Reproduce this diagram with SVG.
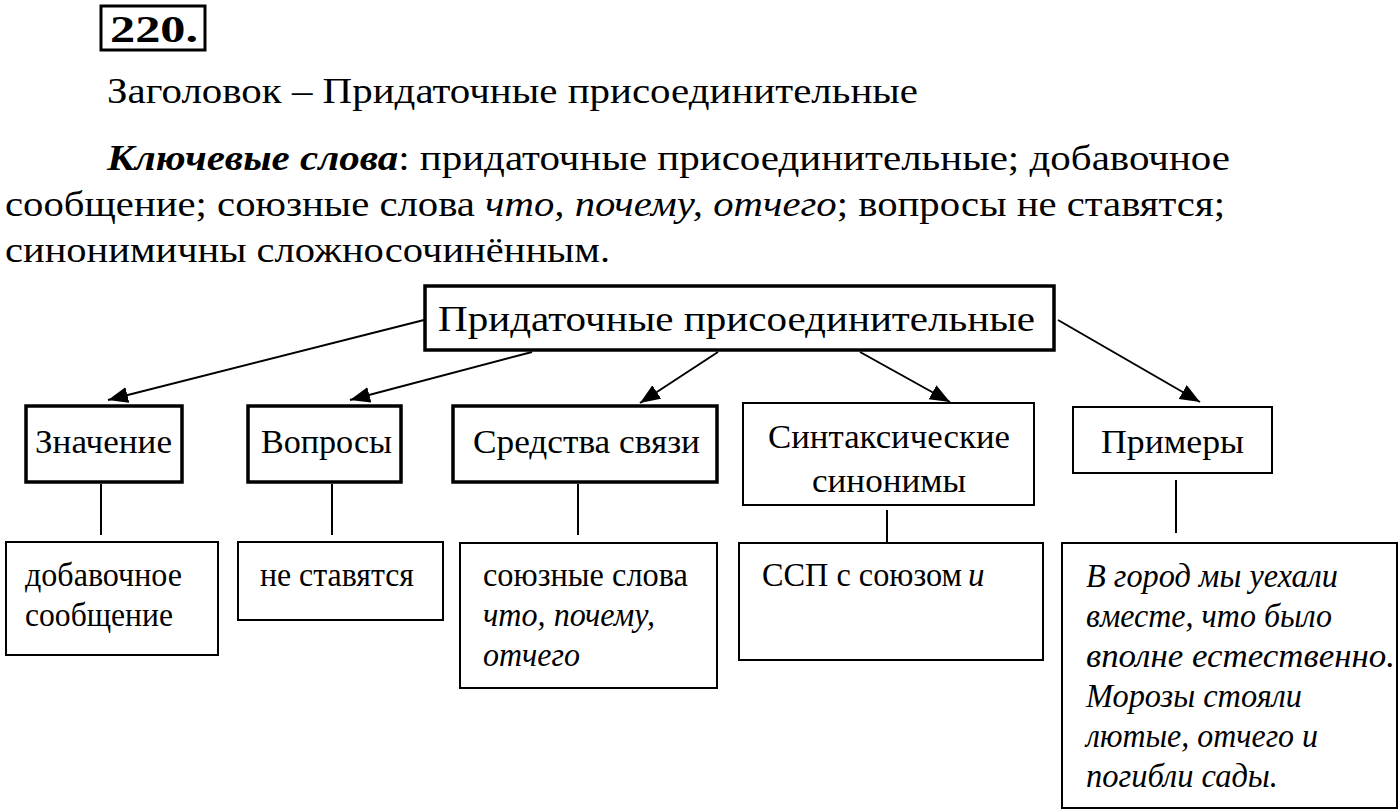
<svg xmlns="http://www.w3.org/2000/svg" width="1400" height="812" viewBox="0 0 1400 812" font-family="'Liberation Serif', 'Times New Roman', serif">
<style>
text{font-family:'Liberation Serif','Times New Roman',serif;fill:#000}
.h{font-size:36px}
.n{font-size:33px}
.i{font-style:italic}
.thick{fill:#fff;stroke:#000;stroke-width:3.5}
.thin{fill:#fff;stroke:#000;stroke-width:2}
.ln{stroke:#000;stroke-width:2;fill:none}
</style>
<defs>
<marker id="ah" markerUnits="userSpaceOnUse" markerWidth="22" markerHeight="18" refX="20" refY="8" orient="auto">
<path d="M0,0 L20,8 L0,16 Z" fill="#000"/>
</marker>
</defs>
<rect width="1400" height="812" fill="#fff"/>
<g id="header">
<rect x="101" y="6" width="104" height="44" fill="none" stroke="#000" stroke-width="3"/>
<text x="110" y="42" font-size="38" font-weight="bold" textLength="88" lengthAdjust="spacingAndGlyphs">220.</text>
<text class="h" x="107" y="103" textLength="811" lengthAdjust="spacingAndGlyphs">Заголовок – Придаточные присоединительные</text>
<text class="h" x="107" y="170" textLength="1123" lengthAdjust="spacingAndGlyphs"><tspan font-weight="bold" font-style="italic">Ключевые слова</tspan>: придаточные присоединительные; добавочное</text>
<text class="h" x="5" y="216" textLength="1220" lengthAdjust="spacingAndGlyphs">сообщение; союзные слова <tspan class="i">что, почему, отчего</tspan>; вопросы не ставятся;</text>
<text class="h" x="5" y="262" textLength="605" lengthAdjust="spacingAndGlyphs">синонимичны сложносочинённым.</text>
</g>
<g id="connectors">
<line class="ln" x1="424" y1="320" x2="108" y2="400" marker-end="url(#ah)"/>
<line class="ln" x1="532" y1="352" x2="350" y2="400" marker-end="url(#ah)"/>
<line class="ln" x1="718" y1="352" x2="640" y2="403" marker-end="url(#ah)"/>
<line class="ln" x1="860" y1="352" x2="950" y2="402" marker-end="url(#ah)"/>
<line class="ln" x1="1058" y1="320" x2="1200" y2="402" marker-end="url(#ah)"/>
<line class="ln" x1="101" y1="484" x2="101" y2="535"/>
<line class="ln" x1="332" y1="484" x2="332" y2="535"/>
<line class="ln" x1="578" y1="484" x2="578" y2="535"/>
<line class="ln" x1="887" y1="510" x2="887" y2="542"/>
<line class="ln" x1="1176" y1="480" x2="1176" y2="533"/>
</g>
<g id="root">
<rect class="thick" x="425" y="286" width="629" height="64"/>
<text class="h" x="438" y="331" textLength="597" lengthAdjust="spacingAndGlyphs">Придаточные присоединительные</text>
</g>
<g id="znachenie">
<rect class="thick" x="26" y="406" width="156" height="76"/>
<text class="n" x="35" y="453" textLength="137" lengthAdjust="spacingAndGlyphs">Значение</text>
</g>
<g id="voprosy">
<rect class="thick" x="248" y="406" width="153" height="76"/>
<text class="n" x="261" y="453" textLength="131" lengthAdjust="spacingAndGlyphs">Вопросы</text>
</g>
<g id="sredstva">
<rect class="thick" x="453" y="406" width="264" height="76"/>
<text class="n" x="473" y="453" textLength="227" lengthAdjust="spacingAndGlyphs">Средства связи</text>
</g>
<g id="sintaks">
<rect class="thin" x="743" y="403" width="291" height="102"/>
<text class="n" x="768" y="448" textLength="242" lengthAdjust="spacingAndGlyphs">Синтаксические</text>
<text class="n" x="812" y="492" textLength="154" lengthAdjust="spacingAndGlyphs">синонимы</text>
</g>
<g id="primery">
<rect class="thin" x="1073" y="407" width="199" height="66"/>
<text class="n" x="1101" y="453" textLength="143" lengthAdjust="spacingAndGlyphs">Примеры</text>
</g>
<g id="dobavochnoe">
<rect class="thin" x="6" y="542" width="212" height="113"/>
<text class="n" x="25" y="586" textLength="157" lengthAdjust="spacingAndGlyphs">добавочное</text>
<text class="n" x="25" y="626" textLength="148" lengthAdjust="spacingAndGlyphs">сообщение</text>
</g>
<g id="ne-stavyatsya">
<rect class="thin" x="238" y="542" width="205" height="78"/>
<text class="n" x="260" y="586" textLength="154" lengthAdjust="spacingAndGlyphs">не ставятся</text>
</g>
<g id="soyuznye">
<rect class="thin" x="460" y="543" width="257" height="145"/>
<text class="n" x="483" y="586" textLength="205" lengthAdjust="spacingAndGlyphs">союзные слова</text>
<text class="n i" x="483" y="626" textLength="172" lengthAdjust="spacingAndGlyphs">что, почему,</text>
<text class="n i" x="483" y="666" textLength="97" lengthAdjust="spacingAndGlyphs">отчего</text>
</g>
<g id="ssp">
<rect class="thin" x="739" y="543" width="304" height="117"/>
<text class="n" x="762" y="586" textLength="200" lengthAdjust="spacingAndGlyphs">ССП с союзом</text>
<text class="n i" x="968" y="586">и</text>
</g>
<g id="examples">
<rect class="thin" x="1062" y="543" width="335" height="265"/>
<text class="n i" x="1086" y="587" textLength="252" lengthAdjust="spacingAndGlyphs">В город мы уехали</text>
<text class="n i" x="1086" y="627" textLength="246" lengthAdjust="spacingAndGlyphs">вместе, что было</text>
<text class="n i" x="1086" y="667" textLength="309" lengthAdjust="spacingAndGlyphs">вполне естественно.</text>
<text class="n i" x="1086" y="707" textLength="216" lengthAdjust="spacingAndGlyphs">Морозы стояли</text>
<text class="n i" x="1086" y="747" textLength="232" lengthAdjust="spacingAndGlyphs">лютые, отчего и</text>
<text class="n i" x="1086" y="787" textLength="192" lengthAdjust="spacingAndGlyphs">погибли сады.</text>
</g>
</svg>
